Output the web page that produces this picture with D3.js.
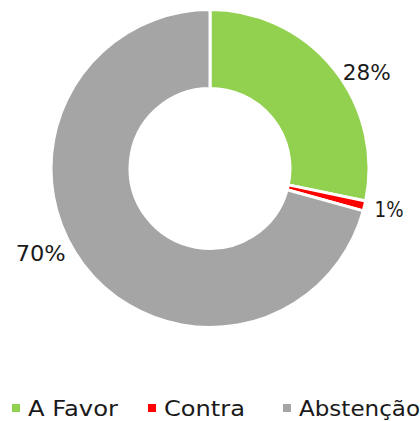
<!DOCTYPE html>
<html><head><meta charset="utf-8">
<script src="https://cdn.jsdelivr.net/npm/d3@7"></script>
<style>body{margin:0;background:#fff}svg{display:block}text{font-family:"DejaVu Sans",sans-serif;fill:#1a1a1a}</style>
</head><body>
<script>
const categories = ["A Favor", "Contra", "Abstenção"];
const values = [28, 1, 70];
const labels = ["28%", "1%", "70%"];
const colors = ["#92D050", "#FF0000", "#A5A5A5"];

const W = 420, H = 421;
const cx = 210, cy = 168.5, rOuter = 159, rInner = 80;
// label nudges (layout, not data)
const labelNudge = [[21, 14], [9, 0], [-30, -21]];

const svg = d3.select("body").append("svg").attr("width", W).attr("height", H);
const g = svg.append("g").attr("transform", `translate(${cx},${cy})`);

const pie = d3.pie().sort(null).value(d => d.v);
const data = categories.map((c, i) => ({c, v: values[i], l: labels[i], col: colors[i]}));
const arcs = pie(data);
const arc = d3.arc().innerRadius(rInner).outerRadius(rOuter);
const labelArc = d3.arc().innerRadius(175).outerRadius(175);

g.selectAll("path").data(arcs).join("path")
  .attr("d", arc).attr("fill", d => d.data.col)
  .attr("stroke", "#fff").attr("stroke-width", 3).attr("stroke-linejoin", "round");

const lblW = [48, 29, 50];
g.selectAll("text.lbl").data(arcs).join("text").attr("class", "lbl")
  .attr("transform", (d, i) => { const p = labelArc.centroid(d); return `translate(${p[0] + labelNudge[i][0]},${p[1] + labelNudge[i][1]})`; })
  .attr("text-anchor", "middle").attr("dy", "0.36em")
  .attr("textLength", (d, i) => lblW[i]).attr("lengthAdjust", "spacingAndGlyphs")
  .style("font-size", "21px").text(d => d.data.l);

const legX = [12, 148, 283];
const legW = [90, 81, 121];
const leg = svg.append("g");
data.forEach((d, i) => {
  leg.append("rect").attr("x", legX[i]).attr("y", 404).attr("width", 8).attr("height", 8).attr("fill", d.col);
  leg.append("text").attr("x", legX[i] + 16).attr("y", 416).style("font-size", "21px")
    .attr("textLength", legW[i]).attr("lengthAdjust", "spacingAndGlyphs").text(d.c);
});
</script>
</body></html>
